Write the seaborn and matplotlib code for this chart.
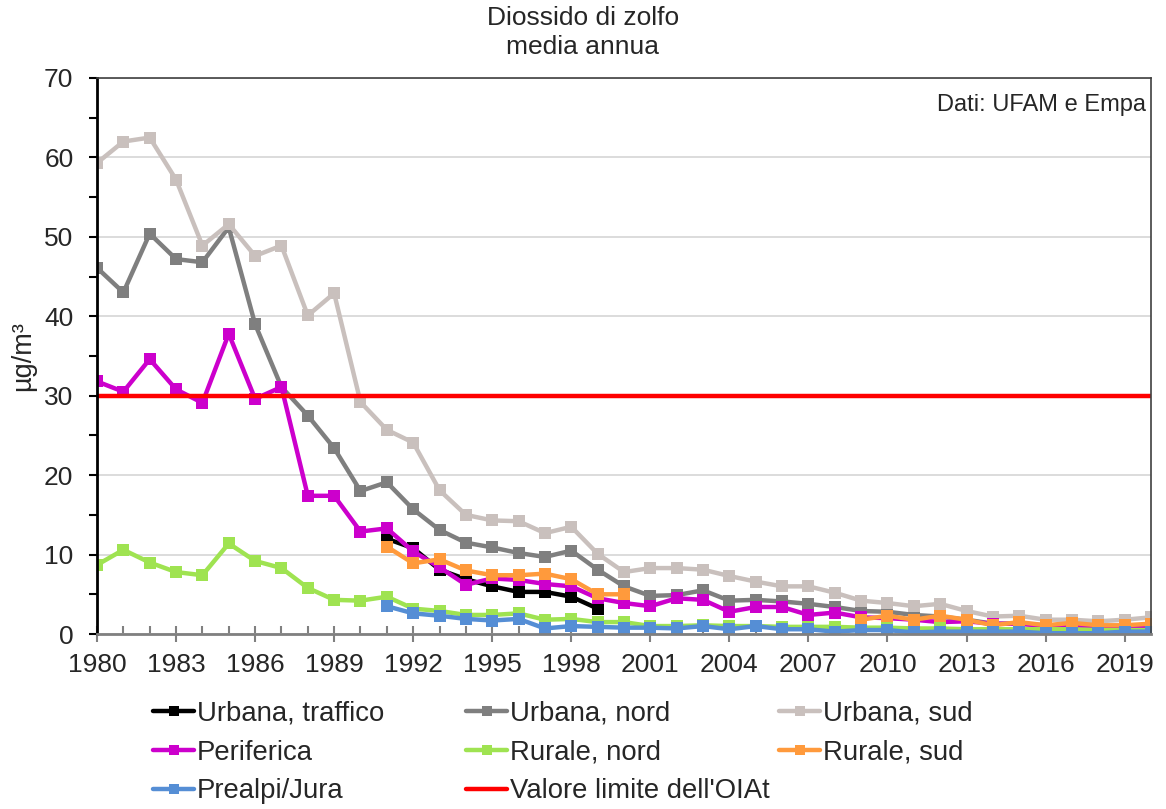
import numpy as np
import pandas as pd
import matplotlib
matplotlib.use("Agg")
import matplotlib.pyplot as plt
from matplotlib.lines import Line2D
from matplotlib.ticker import MultipleLocator
import seaborn as sns

# dati (µg/m³), anni 1980-2020
anni = list(range(1980, 2021))
nan = np.nan

urbana_traffico = [nan] * 11 + [12.0, 10.8, 8.1, 6.9, 6.0, 5.3, 5.3, 4.7, 3.2] + [nan] * 21
urbana_nord = [46.1, 43.0, 50.4, 47.2, 46.8, 51.2, 39.0, 31.1, 27.5, 23.4,
               18.0, 19.1, 15.7, 13.1, 11.5, 10.9, 10.2, 9.7, 10.5, 8.1,
               6.0, 4.8, 4.9, 5.5, 4.2, 4.3, 4.1, 3.8, 3.4, 2.9,
               2.8, 2.4, 2.2, 1.8, 1.3, 1.3, 1.1, 1.0, 0.9, 0.9, 0.8]
urbana_sud = [59.3, 62.0, 62.5, 57.2, 48.9, 51.6, 47.6, 48.9, 40.1, 42.9,
              29.2, 25.7, 24.1, 18.1, 15.0, 14.3, 14.2, 12.7, 13.5, 10.1,
              7.8, 8.3, 8.3, 8.1, 7.3, 6.6, 6.0, 6.0, 5.2, 4.2,
              3.9, 3.5, 3.8, 2.9, 2.2, 2.3, 1.8, 1.8, 1.6, 1.8, 2.1]
periferica = [31.8, 30.5, 34.6, 30.8, 29.1, 37.8, 29.6, 31.1, 17.4, 17.4,
              12.9, 13.3, 10.4, 8.4, 6.2, 7.0, 6.8, 6.3, 6.0, 4.5,
              3.9, 3.5, 4.5, 4.3, 2.8, 3.4, 3.4, 2.4, 2.7, 2.1,
              2.0, 1.8, 1.5, 1.6, 1.3, 1.3, 1.0, 1.0, 0.9, 0.9, 1.0]
rurale_nord = [8.7, 10.6, 9.0, 7.8, 7.4, 11.4, 9.2, 8.3, 5.8, 4.3,
               4.2, 4.7, 3.2, 2.9, 2.4, 2.4, 2.6, 1.8, 1.9, 1.5,
               1.5, 1.0, 1.0, 1.1, 1.0, 1.0, 0.9, 0.9, 0.9, 0.8,
               0.8, 0.7, 0.7, 0.6, 0.6, 0.6, 0.6, 0.6, 0.5, 0.5, 0.5]
rurale_sud = [nan] * 11 + [11.0, 8.9, 9.4, 8.0, 7.4, 7.4, 7.6, 6.9, 5.0, 5.0] + [nan] * 8 + \
             [1.8, 2.3, 1.8, 2.3, 1.8, 1.1, 1.5, 1.1, 1.4, 1.1, 1.1, 1.3]
prealpi_jura = [nan] * 11 + [3.5, 2.6, 2.3, 1.9, 1.7, 1.9, 0.7, 1.0, 0.9,
                             0.8, 0.8, 0.7, 1.0, 0.6, 1.0, 0.6, 0.6, 0.3, 0.5,
                             0.5, 0.2, 0.3, 0.3, 0.3, 0.3, 0.1, 0.1, 0.1, 0.3, 0.3]
valore_limite = 30

serie = {
    "Urbana, traffico": (urbana_traffico, "#000000"),
    "Urbana, nord": (urbana_nord, "#7F7F7F"),
    "Urbana, sud": (urbana_sud, "#C9C0BD"),
    "Periferica": (periferica, "#CC00CC"),
    "Rurale, nord": (rurale_nord, "#9FE351"),
    "Rurale, sud": (rurale_sud, "#FF9A3C"),
    "Prealpi/Jura": (prealpi_jura, "#558ED5"),
}

sns.set_style("white")
plt.rcParams["font.family"] = ["Liberation Sans", "DejaVu Sans"]

fig = plt.figure(figsize=(11.66, 8.09), dpi=100)
ax = fig.add_axes([0.0832, 0.2163, 0.9039, 0.6873])

handles = {}
for nome, (valori, colore) in serie.items():
    df = pd.DataFrame({"anno": anni, "valore": valori})
    # segmenti continui: i buchi nei dati restano buchi nella linea
    df["seg"] = df["valore"].isna().cumsum()
    df = df.dropna()
    for _, parte in df.groupby("seg"):
        sns.lineplot(data=parte, x="anno", y="valore", ax=ax, color=colore,
                     linewidth=3.2, marker="s", markersize=8, markeredgewidth=0,
                     estimator=None, legend=False)
    handles[nome] = Line2D([], [], color=colore, linewidth=3.2, marker="s",
                           markersize=7, markeredgewidth=0)

sns.lineplot(x=[1980, 2020], y=[valore_limite, valore_limite], ax=ax,
             color="#FF0000", linewidth=3.2, legend=False)
handles["Valore limite dell'OIAt"] = Line2D([], [], color="#FF0000", linewidth=3.2)

ax.set_xlim(1980, 2020)
ax.set_ylim(0, 70)
ax.xaxis.set_major_locator(MultipleLocator(3))
ax.xaxis.set_minor_locator(MultipleLocator(1))
ax.yaxis.set_major_locator(MultipleLocator(10))
ax.yaxis.set_minor_locator(MultipleLocator(5))
ax.grid(axis="y", which="major", color="#D9D9D9", linewidth=1.3)
ax.set_axisbelow(True)

ax.tick_params(axis="x", which="major", direction="inout", length=12, width=1.5,
               color="#808080", labelsize=19, pad=8)
ax.tick_params(axis="x", which="minor", direction="in", length=6, width=1.5,
               color="#808080")
ax.tick_params(axis="y", which="both", direction="out", length=6, width=1.5,
               color="black", left=True, labelsize=19, pad=11)
ax.tick_params(axis="x", bottom=True, which="both")

ax.spines["bottom"].set_color("#808080")
ax.spines["bottom"].set_linewidth(2)
ax.spines["left"].set_color("black")
ax.spines["left"].set_linewidth(2)
for lato in ["top", "right"]:
    ax.spines[lato].set_color("#404040")
    ax.spines[lato].set_linewidth(1.2)

ax.set_xlabel("")
ax.set_ylabel("µg/m³", fontsize=19.5, labelpad=6)

ax.text(0.995, 0.972, "Dati: UFAM e Empa", transform=ax.transAxes,
        ha="right", va="top", fontsize=17)
fig.text(0.5, 0.992, "Diossido di zolfo\nmedia annua", ha="center", va="top",
         fontsize=19, linespacing=1.25)

# legenda in tre colonne a griglia fissa
colonne = [
    ["Urbana, traffico", "Periferica", "Prealpi/Jura"],
    ["Urbana, nord", "Rurale, nord", "Valore limite dell'OIAt"],
    ["Urbana, sud", "Rurale, sud"],
]
for i, nomi in enumerate(colonne):
    fig.legend([handles[n] for n in nomi], nomi, loc="upper left",
               bbox_to_anchor=((153 + i * 313) / 1166, 1 - 701 / 809),
               frameon=False, fontsize=19.8, handlelength=1.5,
               handletextpad=0.1, labelspacing=0.46, borderpad=0,
               borderaxespad=0)

fig.savefig("out.png", dpi=100)
